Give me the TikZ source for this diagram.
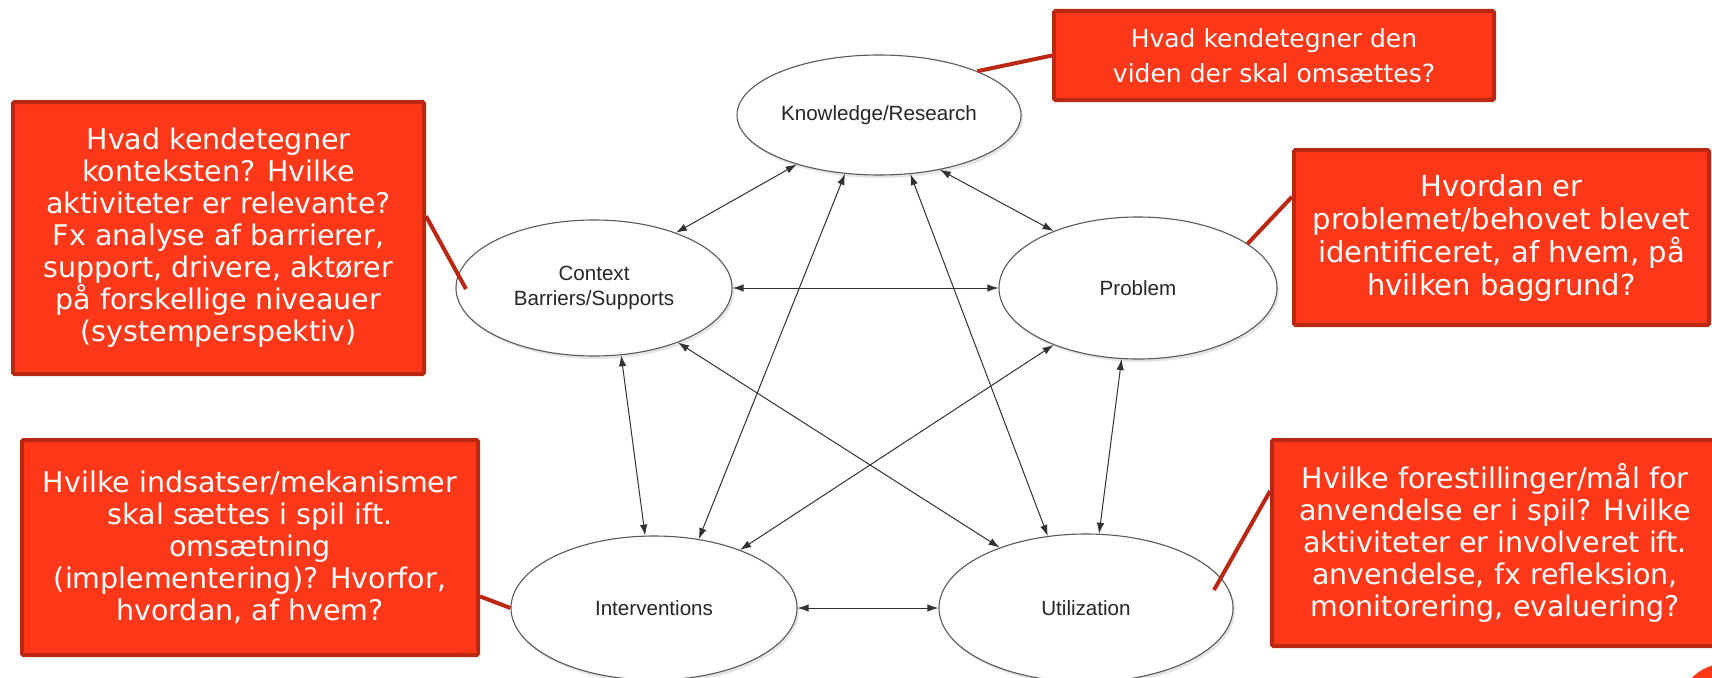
\documentclass[tikz,border=0pt]{standalone}
\usepackage{fontspec}
\setmainfont{DejaVu Sans}
\newfontfamily\labelfont{Liberation Sans}
\usetikzlibrary{arrows.meta, shapes.geometric, shadows}

\definecolor{boxred}{RGB}{255,56,26}
\definecolor{boxedge}{RGB}{186,40,20}
\definecolor{linegray}{RGB}{50,50,50}

\begin{document}
\begin{tikzpicture}[
    x=1pt, y=-1pt,
    stage/.style={ellipse, draw=gray!70!black, line width=1.1pt, fill=white, inner sep=0pt, text=black!85, align=center, font=\labelfont\fontsize{20.6}{25}\selectfont, drop shadow={opacity=0.2, shadow xshift=2pt, shadow yshift=-3pt}},
    question/.style={rectangle, draw=boxedge, line width=4pt, fill=boxred, text=white, align=center, rounded corners=1.5pt, inner sep=0pt, font=\fontsize{28.5}{32}\selectfont},
    link/.style={{Latex[length=11pt,width=7.5pt]}-{Latex[length=11pt,width=7.5pt]}, draw=linegray, line width=1pt},
    callout/.style={draw=boxedge, line width=4pt}
]

\useasboundingbox (0,0) rectangle (1712,677);
\fill[white] (0,0) rectangle (1712,677);

% Ellipses
\node[stage, minimum width=284pt, minimum height=120pt] (know) at (879,115) {Knowledge/Research};
\node[stage, minimum width=276pt, minimum height=136pt] (ctx) at (594,288) {Context\\Barriers/Supports};
\node[stage, minimum width=278pt, minimum height=142pt] (prob) at (1138,288) {Problem};
\node[stage, minimum width=286pt, minimum height=144pt] (int) at (654,608) {Interventions};
\node[stage, minimum width=294pt, minimum height=148pt] (util) at (1086,608) {Utilization};

% Arrows
\draw[link] (know.211) -- (ctx.34);
\draw[link] (know.318) -- (prob.146);
\draw[link] (know.240) -- (int.57);
\draw[link] (know.298) -- (util.118);
\draw[link] (ctx.east) -- (prob.west);
\draw[link] (ctx.292) -- (int.97);
\draw[link] (ctx.327) -- (util.145);
\draw[link] (prob.214) -- (int.34);
\draw[link] (prob.257) -- (util.80);
\draw[link] (int.east) -- (util.west);

% Questions
\node[question, minimum width=440pt, minimum height=89pt, font=\fontsize{25}{35}\selectfont] (topq) at (1274,55.5) {Hvad kendetegner den\\viden der skal omsættes?};
\node[question, minimum width=411pt, minimum height=272pt] (ctxq) at (218.5,238) {Hvad kendetegner\\konteksten? Hvilke\\aktiviteter er relevante?\\Fx analyse af barrierer,\\support, drivere, aktører\\på forskellige niveauer\\(systemperspektiv)};
\node[question, minimum width=415pt, minimum height=175pt, font=\fontsize{29}{33}\selectfont] (probq) at (1501.5,237.5) {Hvordan er\\problemet/behovet blevet\\identificeret, af hvem, på\\hvilken baggrund?};
\node[question, minimum width=456pt, minimum height=215pt] (intq) at (250,547.5) {Hvilke indsatser/mekanismer\\skal sættes i spil ift.\\omsætning\\(implementering)? Hvorfor,\\hvordan, af hvem?};
\node[question, minimum width=446pt, minimum height=206pt] (utilq) at (1495,543) {Hvilke forestillinger/mål for\\anvendelse er i spil? Hvilke\\aktiviteter er involveret ift.\\anvendelse, fx refleksion,\\monitorering, evaluering?};

% Callout lines
\coordinate (uend) at (1214,590);
\coordinate (cend) at (466,289);
\draw[callout] (topq.west) -- (know.24);
\draw[callout] (ctxq.6) -- (cend);
\draw[callout] (probq.169) -- (prob.22);
\draw[callout] (intq.-12) -- (int.west);
\draw[callout] (utilq.167) -- (uend);

% Logo corner
\fill[boxred] (1724,708) circle (44);

\end{tikzpicture}
\end{document}
